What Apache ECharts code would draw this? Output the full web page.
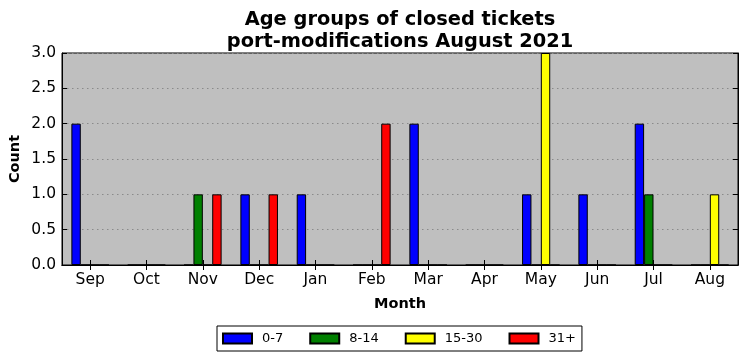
<!DOCTYPE html>
<html>
<head>
<meta charset="utf-8">
<script src="https://cdn.jsdelivr.net/npm/echarts@6/dist/echarts.min.js"></script>
<style>html,body{margin:0;padding:0;background:#fff;}#c{width:747px;height:361px;}</style>
</head>
<body>
<div id="c"></div>
<script>
var months = ['Sep','Oct','Nov','Dec','Jan','Feb','Mar','Apr','May','Jun','Jul','Aug'];
var yTicks = [0, 0.5, 1, 1.5, 2, 2.5, 3];
var age0_7   = [2,0,0,1,1,0,2,0,1,1,2,0];
var age8_14  = [0,0,1,0,0,0,0,0,0,0,1,0];
var age15_30 = [0,0,0,0,0,0,0,0,3,0,0,1];
var age31    = [0,0,1,1,0,2,0,0,0,0,0,0];
var seriesNames = ['0-7','8-14','15-30','31+'];
var seriesColors = ['#0000ff','#008000','#ffff00','#ff0000'];
var seriesData = [age0_7, age8_14, age15_30, age31];

var FONT = 'DejaVu Sans';
var chart = echarts.init(document.getElementById('c'), null, {renderer:'canvas'});
var yMin = yTicks[0], yMax = yTicks[yTicks.length-1], yInt = yTicks[1]-yTicks[0];

var option = {
  animation: false,
  backgroundColor: '#ffffff',
  textStyle: {fontFamily: FONT},
  title: {
    text: 'Age groups of closed tickets\nport-modifications August 2021',
    left: 395, top: 4, textAlign: 'center',
    textStyle: {fontFamily: FONT, fontWeight: 'bold', fontSize: 19.4, lineHeight: 22, color: '#000'}
  },
  grid: {left: 62, right: 9, top: 53, bottom: 96, outerBoundsMode: 'none', containLabel: false, show: true, backgroundColor: '#bfbfbf', borderColor: '#000', borderWidth: 1},
  legend: {
    data: seriesNames,
    left: 217, top: 326,
    orient: 'horizontal',
    icon: 'rect',
    itemWidth: 29, itemHeight: 10,
    itemGap: 26,
    padding: [6, 6, 6, 5],
    borderColor: '#000', borderWidth: 1,
    textStyle: {fontFamily: FONT, fontSize: 13, color: '#000', padding: [0,0,0,5]}
  },
  xAxis: [{
    type: 'category', data: months, position: 'bottom',
    name: 'Month', nameLocation: 'middle', nameGap: 32,
    nameTextStyle: {fontFamily: FONT, fontWeight: 'bold', fontSize: 14.5, color: '#000'},
    axisLine: {show: true, lineStyle: {color: '#000', width: 1}},
    axisTick: {show: true, inside: true, alignWithLabel: true, length: 5, lineStyle: {color: '#000'}},
    axisLabel: {fontFamily: FONT, fontSize: 15.5, color: '#000', margin: 7},
    splitLine: {show: false}
  }, {
    type: 'category', data: months, position: 'top',
    axisLine: {show: true, lineStyle: {color: '#000', width: 1}},
    axisTick: {show: true, inside: true, alignWithLabel: true, length: 5, lineStyle: {color: '#000'}},
    axisLabel: {show: false}, splitLine: {show: false}
  }],
  yAxis: [{
    type: 'value', min: yMin, max: yMax, interval: yInt, position: 'left',
    name: 'Count', nameLocation: 'middle', nameGap: 39, nameRotate: 90, nameMoveOverlap: false,
    nameTextStyle: {fontFamily: FONT, fontWeight: 'bold', fontSize: 14.5, color: '#000'},
    axisLine: {show: true, lineStyle: {color: '#000', width: 1}},
    axisTick: {show: true, inside: true, length: 5, lineStyle: {color: '#000'}},
    axisLabel: {fontFamily: FONT, fontSize: 15.5, color: '#000', margin: 6, formatter: function(v){return v.toFixed(1);}},
    splitLine: {show: true, lineStyle: {color: '#8a8a8a', type: [1.5, 3.5], width: 1}}
  }, {
    type: 'value', min: yMin, max: yMax, interval: yInt, position: 'right',
    axisLine: {show: true, lineStyle: {color: '#000', width: 1}},
    axisTick: {show: true, inside: true, length: 5, lineStyle: {color: '#000'}},
    axisLabel: {show: false}, splitLine: {show: false}
  }],
  series: seriesNames.map(function(n, i){
    return {
      name: n, type: 'bar', xAxisIndex: 0, yAxisIndex: 0,
      data: seriesData[i],
      barWidth: '16.67%', barGap: '0%',
      itemStyle: {color: seriesColors[i], borderColor: '#000', borderWidth: 1}
    };
  })
};
chart.setOption(option);
</script>
</body>
</html>
